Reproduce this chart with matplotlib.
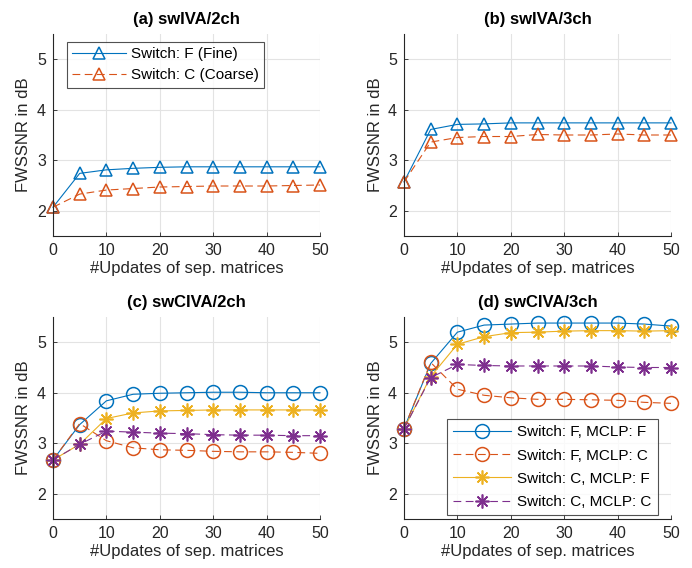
import matplotlib
matplotlib.use("Agg")
import matplotlib.pyplot as plt

plt.rcParams['font.family'] = ['Liberation Sans', 'DejaVu Sans']

x = [0, 5, 10, 15, 20, 25, 30, 35, 40, 45, 50]

# (a) swIVA/2ch
a_F = [2.07, 2.74, 2.81, 2.84, 2.86, 2.87, 2.87, 2.87, 2.87, 2.87, 2.87]
a_C = [2.07, 2.33, 2.41, 2.44, 2.47, 2.48, 2.49, 2.49, 2.49, 2.50, 2.51]
# (b) swIVA/3ch
b_F = [2.57, 3.61, 3.71, 3.72, 3.74, 3.74, 3.74, 3.74, 3.74, 3.74, 3.74]
b_C = [2.57, 3.36, 3.45, 3.47, 3.47, 3.51, 3.50, 3.50, 3.52, 3.50, 3.50]
# (c) swCIVA/2ch
c_FF = [2.67, 3.37, 3.84, 3.97, 3.99, 4.00, 4.01, 4.01, 4.00, 4.00, 4.00]
c_FC = [2.67, 3.39, 3.05, 2.91, 2.87, 2.86, 2.84, 2.83, 2.83, 2.82, 2.80]
c_CF = [2.67, 2.98, 3.49, 3.60, 3.64, 3.65, 3.66, 3.66, 3.66, 3.66, 3.66]
c_CC = [2.67, 2.98, 3.24, 3.22, 3.20, 3.19, 3.17, 3.16, 3.16, 3.15, 3.15]
# (d) swCIVA/3ch
d_FF = [3.29, 4.58, 5.20, 5.34, 5.36, 5.38, 5.38, 5.38, 5.38, 5.36, 5.32]
d_FC = [3.29, 4.60, 4.07, 3.95, 3.90, 3.87, 3.87, 3.86, 3.85, 3.81, 3.79]
d_CF = [3.29, 4.32, 4.96, 5.11, 5.19, 5.20, 5.22, 5.23, 5.23, 5.22, 5.23]
d_CC = [3.29, 4.30, 4.56, 4.54, 4.53, 4.53, 4.53, 4.53, 4.51, 4.50, 4.50]

titles = ['(a) swIVA/2ch', '(b) swIVA/3ch', '(c) swCIVA/2ch', '(d) swCIVA/3ch']
leg2 = ['Switch: F (Fine)', 'Switch: C (Coarse)']
leg4 = ['Switch: F, MCLP: F', 'Switch: F, MCLP: C',
        'Switch: C, MCLP: F', 'Switch: C, MCLP: C']

BLUE = '#0072BD'
ORANGE = '#D95319'
YELLOW = '#EDB120'
PURPLE = '#7E2F8E'
AX = '#262626'

fig = plt.figure(figsize=(6.92, 5.68), dpi=100)
W = 267 / 692
H1 = 202 / 568
lefts = [53 / 692, 404 / 692]
bottoms = [1 - 236 / 568, 1 - 519 / 568]
H2 = (519 - 317) / 568

axes = []
for r in range(2):
    for c in range(2):
        h = H1 if r == 0 else H2
        ax = fig.add_axes([lefts[c], bottoms[r], W, h])
        axes.append(ax)

dash = (0, (7, 4))
ASTER = (8, 2, 0)

def style(ax, title):
    ax.set_xlim(0, 50)
    ax.set_ylim(1.5, 5.5)
    ax.set_xticks([0, 10, 20, 30, 40, 50])
    ax.set_yticks([2, 3, 4, 5])
    ax.grid(True, color='#e3e3e3', linewidth=0.8)
    ax.set_axisbelow(True)
    for s in ['top', 'right']:
        ax.spines[s].set_visible(False)
    for s in ['left', 'bottom']:
        ax.spines[s].set_color(AX)
        ax.spines[s].set_linewidth(0.8)
    ax.tick_params(direction='in', length=3, width=0.6, colors=AX,
                   labelsize=11.5, pad=5)
    ax.set_xlabel('#Updates of sep. matrices', fontsize=12, color=AX, labelpad=2)
    ax.set_ylabel('FWSSNR in dB', fontsize=12, color=AX, labelpad=4)
    ax.set_title(title, fontsize=12, fontweight='bold', color='black', pad=7)

mk = dict(markerfacecolor='none', markersize=9, markeredgewidth=1.1, linewidth=0.8,
          clip_on=False)

for ax, F, C, t in [(axes[0], a_F, a_C, titles[0]), (axes[1], b_F, b_C, titles[1])]:
    ax.plot(x, F, color=BLUE, marker='^', linestyle='-', label=leg2[0], **mk)
    ax.plot(x, C, color=ORANGE, marker='^', linestyle=dash, label=leg2[1], **mk)
    style(ax, t)

mk2 = dict(markerfacecolor='none', markersize=10, markeredgewidth=1.1, linewidth=0.8,
           clip_on=False)
mk3 = dict(markersize=10, markeredgewidth=1.2, linewidth=0.8, clip_on=False)
for ax, FF, FC, CF, CC, t in [(axes[2], c_FF, c_FC, c_CF, c_CC, titles[2]),
                               (axes[3], d_FF, d_FC, d_CF, d_CC, titles[3])]:
    ax.plot(x, FF, color=BLUE, marker='o', linestyle='-', label=leg4[0], **mk2)
    ax.plot(x, FC, color=ORANGE, marker='o', linestyle=dash, label=leg4[1], **mk2)
    ax.plot(x, CF, color=YELLOW, marker=ASTER, linestyle='-', label=leg4[2], **mk3)
    ax.plot(x, CC, color=PURPLE, marker=ASTER, linestyle=dash, label=leg4[3], **mk3)
    style(ax, t)

lg = axes[0].legend(loc='upper left', bbox_to_anchor=(0.052, 0.96), fontsize=11,
                    frameon=True, fancybox=False, edgecolor=AX, handlelength=3.5,
                    borderpad=0.35, labelspacing=0.45, handletextpad=0.35,
                    borderaxespad=0)
lg.get_frame().set_linewidth(0.8)
lg = axes[3].legend(loc='lower right', bbox_to_anchor=(0.95, 0.02), fontsize=11,
                    frameon=True, fancybox=False, edgecolor=AX, handlelength=3.8,
                    borderpad=0.4, labelspacing=0.6, handletextpad=0.4,
                    borderaxespad=0)
lg.get_frame().set_linewidth(0.8)

fig.savefig('out.png', dpi=100)
